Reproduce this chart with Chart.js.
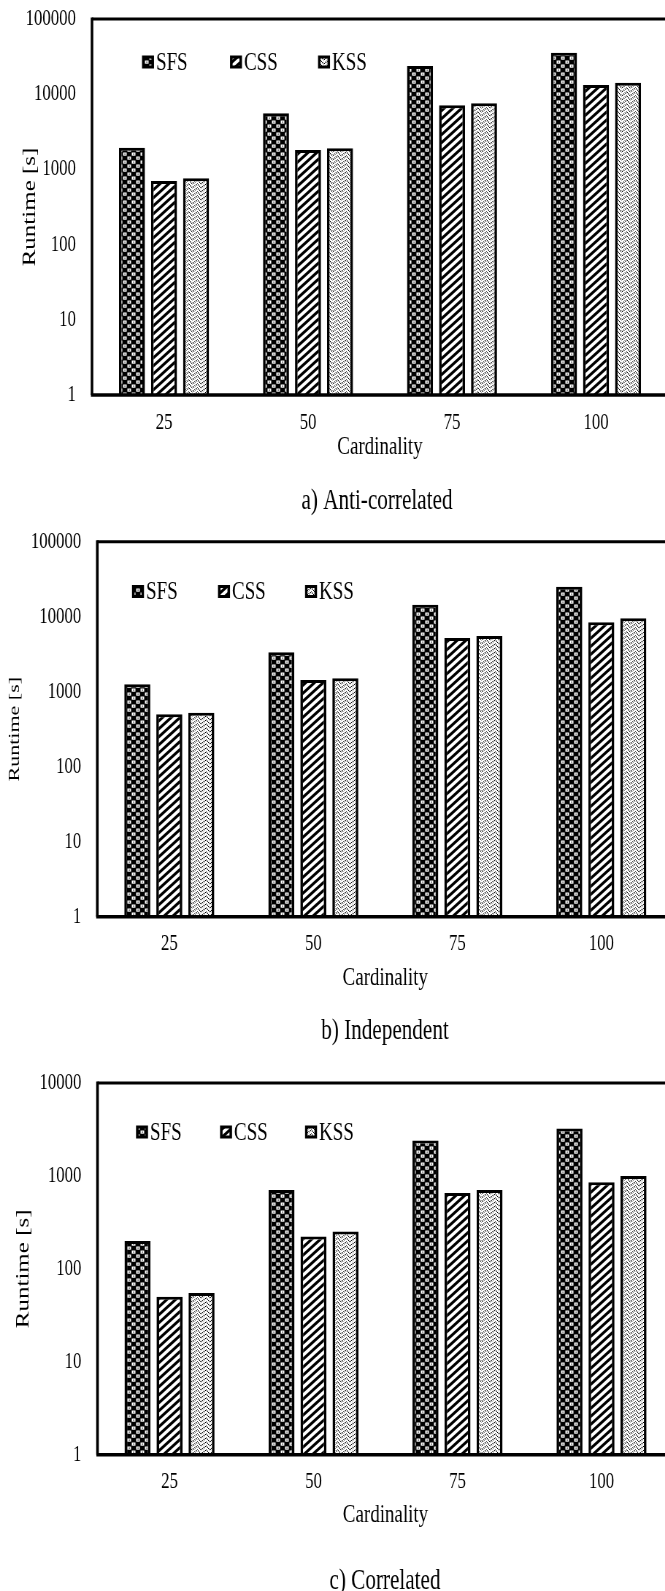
<!DOCTYPE html>
<html>
<head>
<meta charset="utf-8">
<script src="https://cdn.jsdelivr.net/npm/chart.js@4/dist/chart.umd.min.js"></script>
<style>
  html, body { margin: 0; padding: 0; background: #fff; }
  body { width: 665px; height: 1591px; overflow: hidden; position: relative; }
  .panel { position: absolute; left: 0; transform: scaleX(0.73); transform-origin: 0 0; }
  .panel canvas { display: block; }
</style>
</head>
<body>
<div class="panel" style="top:0px"><canvas id="chartAnti" width="940" height="520"></canvas></div>
<div class="panel" style="top:520px"><canvas id="chartInd" width="940" height="530"></canvas></div>
<div class="panel" style="top:1050px"><canvas id="chartCor" width="940" height="541"></canvas></div>
<script>
// ---- data ----
const categories = ['25', '50', '75', '100'];
const seriesNames = ['SFS', 'CSS', 'KSS'];

// a) anti-correlated runtimes [s]
const antiSFS = [1945, 5570, 23700, 35600];
const antiCSS = [701, 1811, 7110, 13250];
const antiKSS = [762, 1905, 7570, 14230];

// b) independent runtimes [s]
const indSFS = [1256, 3350, 14450, 25100];
const indCSS = [500, 1432, 5200, 8420];
const indKSS = [525, 1507, 5530, 9520];

// c) correlated runtimes [s]
const corSFS = [200, 706, 2410, 3240];
const corCSS = [50, 223, 654, 857];
const corKSS = [55, 253, 706, 997];

const yTicksWide = [1, 10, 100, 1000, 10000, 100000];
const yTicksNarrow = [1, 10, 100, 1000, 10000];

const captions = ['a) Anti-correlated', 'b) Independent', 'c) Correlated'];
const xTitle = 'Cardinality';
const yTitle = 'Runtime [s]';

// ---- look ----
const S = 0.73;            // horizontal squeeze applied to every panel
const FAMILY = "'Liberation Serif', 'Times New Roman', serif";
Chart.defaults.font.family = FAMILY;
Chart.defaults.color = '#000';

function tile(w, h, paint) {
  const c = document.createElement('canvas');
  c.width = w; c.height = h;
  const g = c.getContext('2d');
  g.fillStyle = '#fff';
  g.fillRect(0, 0, w, h);
  paint(g, w, h);
  return g.createPattern(c, 'repeat');
}

// SFS: dark checker with small hollow squares
const patSFS = tile(12, 8, (g, w, h) => {
  g.fillStyle = '#000';
  g.fillRect(0, 0, w, h);
  g.fillStyle = '#fff';
  g.fillRect(0.5, 0.5, 5, 3.2);
  g.fillRect(6.5, 4.5, 5, 3.2);
  g.fillStyle = '#000';
  g.fillRect(2.4, 1.6, 1.4, 1);
  g.fillRect(8.4, 5.6, 1.4, 1);
});

// CSS: wide forward diagonal stripes
const patCSS = tile(12, 8, (g, w, h) => {
  g.fillStyle = '#000';
  for (let k = -1; k <= 1; k++) {
    const x = k * w;
    g.beginPath();
    g.moveTo(x, h);
    g.lineTo(x + 5.6, h);
    g.lineTo(x + 5.6 + w, 0);
    g.lineTo(x + w, 0);
    g.closePath();
    g.fill();
  }
});

// KSS: fine dotted zigzag
const patKSS = tile(12, 8, (g, w, h) => {
  g.strokeStyle = '#000';
  g.lineWidth = 1.5;
  for (const dy of [-4, 0, 4, 8]) {
    g.beginPath();
    g.moveTo(0, dy + 4);
    g.lineTo(w / 2, dy);
    g.lineTo(w, dy + 4);
    g.stroke();
  }
  const im = g.getImageData(0, 0, w, h);
  for (let y = 0; y < h; y++) {
    for (let x = 0; x < w; x++) {
      if ((x + y) % 2 === 0) {
        const i = (y * w + x) * 4;
        im.data[i] = im.data[i + 1] = im.data[i + 2] = 255;
      }
    }
  }
  g.putImageData(im, 0, 0);
});

const patterns = [patSFS, patCSS, patKSS];

// frame, in-plot legend and caption
const decor = {
  id: 'decor',
  afterDatasetsDraw(chart, args, o) {
    const { ctx, chartArea: a } = chart;
    const line = (x1, y1, x2, y2) => { ctx.beginPath(); ctx.moveTo(x1, y1); ctx.lineTo(x2, y2); ctx.stroke(); };
    ctx.save();
    ctx.strokeStyle = '#000';
    ctx.lineWidth = 3;
    line(a.left, a.top, a.right, a.top);
    ctx.lineWidth = 2.6 / S;
    line(a.left, a.top - 1.5, a.left, a.bottom);
    line(a.right, a.top - 1.5, a.right, a.bottom);
    ctx.lineWidth = 3.6;
    line(a.left - 1.5, a.bottom, a.right, a.bottom);

    // legend
    ctx.font = '26px ' + FAMILY;
    ctx.textBaseline = 'middle';
    ctx.textAlign = 'left';
    const bw = 12 / S, bh = 13;
    chart.data.datasets.forEach((ds, i) => {
      const x = o.legendX[i] / S, y = o.legendY;
      ctx.fillStyle = '#000';
      ctx.fillRect(x, y - bh / 2, bw, bh);
      ctx.fillStyle = ds.backgroundColor;
      ctx.fillRect(x + 3.5, y - bh / 2 + 3, bw - 7, bh - 6);
      ctx.fillStyle = '#000';
      ctx.fillText(ds.label, x + 14 / S, y + 1);
    });

    // caption under the panel
    ctx.font = '29px ' + FAMILY;
    ctx.textAlign = 'center';
    ctx.fillText(o.caption, o.capX / S, o.capY);
    ctx.restore();
  }
};

function buildChart(id, p, sets, yMax, yTickVals, caption) {
  const W = 940;
  const L = p.left / S, R = p.right / S;
  return new Chart(document.getElementById(id), {
    type: 'bar',
    data: {
      labels: categories,
      datasets: sets.map((vals, i) => ({
        label: seriesNames[i],
        data: vals,
        backgroundColor: patterns[i],
        borderColor: '#000',
        borderWidth: { top: 3, left: 3.6, right: 3.6, bottom: 0 },
        borderSkipped: 'start',
        categoryPercentage: 0.667,
        barPercentage: 0.8125
      }))
    },
    options: {
      responsive: false,
      animation: false,
      devicePixelRatio: 1,
      layout: { padding: { top: p.top, left: 0, right: W - R, bottom: p.H - p.xBottom } },
      plugins: {
        legend: { display: false },
        tooltip: { enabled: false },
        decor: { legendX: p.legendX, legendY: p.legendY, caption: caption, capX: p.capX, capY: p.capY }
      },
      scales: {
        x: {
          type: 'category',
          offset: true,
          grid: { display: false, drawTicks: false },
          border: { display: false },
          ticks: { padding: p.xPad, font: { size: 23 }, color: '#000', maxRotation: 0, autoSkip: false },
          title: { display: true, text: xTitle, font: { size: 26 }, color: '#000', padding: 0 },
          afterFit(s) { s.height = p.xBottom - p.bottom; s.paddingLeft = 0; s.paddingRight = 0; }
        },
        y: {
          type: 'logarithmic',
          min: 1,
          max: yMax,
          grid: { display: false, drawTicks: false },
          border: { display: false },
          ticks: { padding: 22, font: { size: 23 }, color: '#000', callback: v => String(v) },
          afterBuildTicks(s) { s.ticks = yTickVals.map(v => ({ value: v })); },
          title: { display: true, text: yTitle, font: { size: p.yTitleSize }, color: '#000', padding: { top: p.yTitlePad, bottom: 0 } },
          afterFit(s) { s.width = L; s.paddingTop = 0; s.paddingBottom = 0; }
        }
      }
    },
    plugins: [decor]
  });
}

buildChart('chartAnti', {
  H: 520, left: 92, right: 668, top: 19, bottom: 395, xPad: 14.2, xBottom: 462.6,
  yTitleSize: 25, yTitlePad: 26, legendX: [142, 230, 318], legendY: 62, capX: 377, capY: 501
}, [antiSFS, antiCSS, antiKSS], 100000, yTicksWide, captions[0]);

buildChart('chartInd', {
  H: 530, left: 97.3, right: 673.3, top: 21.7, bottom: 396.7, xPad: 13.5, xBottom: 473.6,
  yTitleSize: 22, yTitlePad: 7.3, legendX: [132, 218, 305], legendY: 71.5, capX: 385, capY: 511
}, [indSFS, indCSS, indKSS], 100000, yTicksWide, captions[1]);

buildChart('chartCor', {
  H: 541, left: 97.5, right: 673.5, top: 33, bottom: 404.7, xPad: 13.2, xBottom: 480.6,
  yTitleSize: 25, yTitlePad: 17, legendX: [136, 220, 305], legendY: 82, capX: 385, capY: 531
}, [corSFS, corCSS, corKSS], 10000, yTicksNarrow, captions[2]);
</script>
</body>
</html>
